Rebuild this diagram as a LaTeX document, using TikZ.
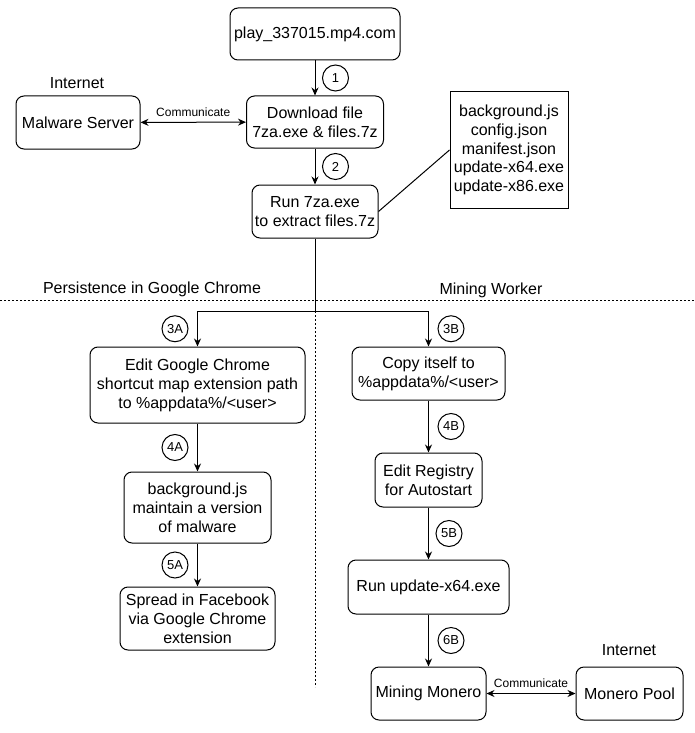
\documentclass[tikz,border=0pt]{standalone}
\usepackage{fontspec}
\setmainfont{Liberation Sans}
\usetikzlibrary{arrows.meta}

\begin{document}
\begin{tikzpicture}[x=1pt,y=-1pt,
    box/.style={draw,rounded corners=8pt,align=center,inner sep=0pt,line width=1pt,
                font=\fontsize{16}{19}\selectfont},
    filebox/.style={draw,align=center,inner sep=0pt,line width=1pt,
                font=\fontsize{16}{18.7}\selectfont},
    stepno/.style={draw,circle,inner sep=0pt,minimum size=26pt,line width=1pt,
                font=\fontsize{13}{15}\selectfont},
    arr/.style={line width=1pt,-{Stealth[length=8pt,width=7pt]}},
    twoway/.style={line width=1pt,{Stealth[length=8pt,width=7pt]}-{Stealth[length=8pt,width=7pt]}},
    plain/.style={line width=1pt},
    divider/.style={line width=1pt,dash pattern=on 2pt off 2pt},
    lbl/.style={font=\fontsize{16}{19}\selectfont},
    small/.style={font=\fontsize{12}{14}\selectfont}]
  \useasboundingbox (0,0) rectangle (694,733);
  \node[box,minimum width=170pt,minimum height=52pt] (play)     at (315,34)    {play\_337015.mp4.com};
  \node[box,minimum width=137pt,minimum height=52pt] (download) at (315,122)   {Download file\\7za.exe \& files.7z};
  \node[box,minimum width=124pt,minimum height=53pt] (malware)  at (78,122.5)  {Malware Server};
  \node[lbl]                                         (inet1)    at (77,83)     {Internet};
  \node[box,minimum width=126pt,minimum height=53pt] (run)      at (315,211.5) {Run 7za.exe\\to extract files.7z};
  \node[filebox,minimum width=118pt,minimum height=116pt] (files) at (509,150)
        {background.js\\config.json\\manifest.json\\update-x64.exe\\update-x86.exe};
  \node[lbl] (persist) at (152,289) {Persistence in Google Chrome};
  \node[lbl] (worker)  at (491,290) {Mining Worker};
  \coordinate (split)  at (315,311);
  \coordinate (hleft)  at (0,300);
  \coordinate (hright) at (694,300);
  \coordinate (vend)   at (315,687);
  \node[box,minimum width=215pt,minimum height=76pt] (chrome)   at (197.5,385)   {Edit Google Chrome\\shortcut map extension path\\to \%appdata\%/<user>};
  \node[box,minimum width=147pt,minimum height=71pt] (bgjs)     at (197.5,507.5) {background.js\\maintain a version\\of malware};
  \node[box,minimum width=155pt,minimum height=63pt] (spread)   at (197.5,618.5) {Spread in Facebook\\via Google Chrome\\extension};
  \node[box,minimum width=153pt,minimum height=53pt] (copy)     at (428.5,373.5) {Copy itself to\\\%appdata\%/<user>};
  \node[box,minimum width=107pt,minimum height=54pt] (registry) at (428.5,480)   {Edit Registry\\for Autostart};
  \node[box,minimum width=161pt,minimum height=54pt] (update)   at (428.5,587)   {Run update-x64.exe};
  \node[box,minimum width=115pt,minimum height=53pt] (mining)   at (428.5,693.5) {Mining Monero};
  \node[box,minimum width=107pt,minimum height=53pt] (pool)     at (629.5,693.5) {Monero Pool};
  \node[lbl]                                         (inet2)    at (629,650)     {Internet};
  \draw[divider] (hleft) -- (hright);
  \draw[divider] (split) -- (vend);
  \draw[arr] (play) -- node[stepno,right=7pt] (s1) {1} (download);
  \draw[arr] (download) -- node[stepno,right=7pt] (s2) {2} (run);
  \draw[twoway] (malware) -- node[small,above=2pt] (com1) {Communicate} (download);
  \draw[plain] (run.east) -- (files.west);
  \draw[plain] (run) -- (split);
  \draw[arr] (split) -| node[stepno,pos=0.75,left=9pt] (s3a) {3A} (chrome);
  \draw[arr] (split) -| node[stepno,pos=0.75,right=9pt] (s3b) {3B} (copy);
  \draw[arr] (chrome) -- node[stepno,left=9pt] (s4a) {4A} (bgjs);
  \draw[arr] (bgjs) -- node[stepno,left=9pt] (s5a) {5A} (spread);
  \draw[arr] (copy) -- node[stepno,right=9pt] (s4b) {4B} (registry);
  \draw[arr] (registry) -- node[stepno,right=7pt] (s5b) {5B} (update);
  \draw[arr] (update) -- node[stepno,right=9pt] (s6b) {6B} (mining);
  \draw[twoway] (mining) -- node[small,above=2pt] (com2) {Communicate} (pool);
\end{tikzpicture}
\end{document}
